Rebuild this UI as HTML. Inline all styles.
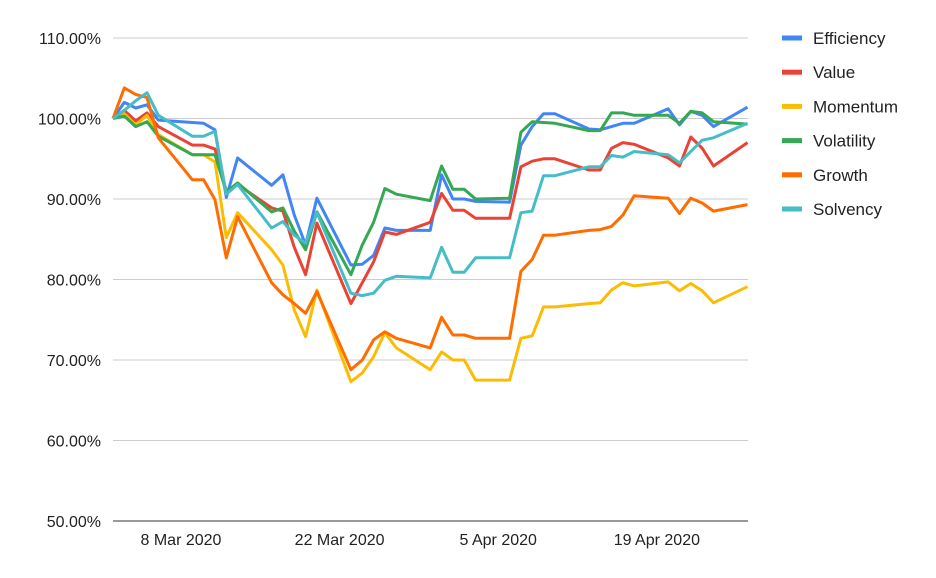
<!DOCTYPE html>
<html><head><meta charset="utf-8"><style>
body{margin:0;background:#fff;}
svg{display:block;font-family:"Liberation Sans",Arial,sans-serif;}
</style></head><body>
<svg id="chart" width="936" height="578" viewBox="0 0 936 578">
<g id="grid"></g>
<g id="yaxis"></g>
<g id="xaxis"></g>
<g id="series"></g>
<g id="legend"></g>
</svg>
<script>
// day offsets from 2 Mar 2020
const days = [0,1,2,3,4, 7,8,9,10,11, 14,15,16,17,18, 21,22,23,24,25, 28,29,30,31,32, 35,36,37,38,39, 42,43,44,45,46, 49,50,51,52,53, 56];
const yTicks = [50,60,70,80,90,100,110];
const xTickDays = [6,20,34,48];
const xTickLabels = ["8 Mar 2020","22 Mar 2020","5 Apr 2020","19 Apr 2020"];
const seriesNames = ["Efficiency","Value","Momentum","Volatility","Growth","Solvency"];
const seriesColors = ["#4285f4","#ea4335","#fbbc04","#34a853","#ff6d01","#46bdc6"];
const efficiency = [100,102,101.3,101.7,99.8, 99.5,99.4,98.6,90.2,95.1, 91.7,93,88,84.3,90.1, 81.8,81.9,83,86.4,86.1, 86.1,93,90,90,89.7, 89.6,96.7,99,100.6,100.6, 98.7,98.6,99,99.4,99.4, 101.2,99.2,100.9,100.4,99, 101.4];
const value = [100,101,99.7,100.7,99, 96.7,96.7,96.2,91,91.8, 88.9,88.5,84,80.6,87, 77,79.6,82.2,85.9,85.6, 87.1,90.7,88.6,88.6,87.6, 87.6,94,94.7,95,95, 93.6,93.6,96.3,97,96.8, 95.1,94.1,97.7,96.3,94.1, 97];
const momentum = [100,100.6,99.2,100.4,98, 95.5,95.5,94.6,85.2,88.3, 83.7,81.8,76.2,72.9,78.7, 67.3,68.4,70.4,73.4,71.5, 68.8,71,70,70,67.5, 67.5,72.7,73,76.6,76.6, 77,77.1,78.7,79.6,79.2, 79.7,78.6,79.5,78.6,77.1, 79.1];
const volatility = [100,100.3,99,99.6,97.8, 95.5,95.5,95.5,90.9,92, 88.4,88.9,86,83.7,88.4, 80.6,84.3,87.1,91.3,90.6, 89.8,94.1,91.2,91.2,90, 90.1,98.3,99.6,99.5,99.4, 98.5,98.5,100.7,100.7,100.4, 100.4,99.4,100.9,100.7,99.6, 99.3];
const growth = [100,103.8,103,102.6,97.6, 92.4,92.4,89.9,82.7,87.8, 79.6,78.1,77,75.8,78.5, 68.8,70,72.5,73.5,72.7, 71.5,75.3,73.1,73.1,72.7, 72.7,81,82.5,85.5,85.5, 86.1,86.2,86.6,88,90.4, 90.1,88.2,90.1,89.5,88.5, 89.3];
const solvency = [100,101,102.2,103.2,100.4, 97.8,97.8,98.4,90.6,91.8, 86.4,87.2,85.5,84.5,88.3, 78.3,78,78.3,79.9,80.4, 80.2,84,80.9,80.9,82.7, 82.7,88.3,88.5,92.9,92.9, 94,94,95.4,95.2,95.9, 95.5,94.5,95.9,97.3,97.6, 99.4];
const seriesValues = [efficiency,value,momentum,volatility,growth,solvency];

const NS="http://www.w3.org/2000/svg";
const X0=113, DX=11.33, Y110=38, Y50=521, XR=748;
function xScale(d){return X0+d*DX;}
function yScale(v){return Y50-(v-50)*(Y50-Y110)/60;}
function mk(tag,attrs,parent){const e=document.createElementNS(NS,tag);for(const k in attrs)e.setAttribute(k,attrs[k]);parent.appendChild(e);return e;}

const grid=document.getElementById('grid'), yaxis=document.getElementById('yaxis'), xaxis=document.getElementById('xaxis'), series=document.getElementById('series'), legend=document.getElementById('legend');
yTicks.forEach(t=>{
  const y=yScale(t);
  const l=mk('line',{x1:X0,x2:XR,y1:y,y2:y,stroke:t===50?'#333':'#ccc','stroke-width':1},grid);
  
  
  const tx=mk('text',{x:101,y:y+6,'text-anchor':'end','font-size':16,fill:'#222'},yaxis);
  tx.textContent=t.toFixed(2)+'%';
  
  
});
xTickDays.forEach((d,i)=>{
  const tx=mk('text',{x:xScale(d),y:545,'text-anchor':'middle','font-size':16,fill:'#222'},xaxis);
  tx.textContent=xTickLabels[i];
  
  
});
seriesValues.forEach((vals,i)=>{
  const pts=vals.map((v,j)=>xScale(days[j]).toFixed(1)+','+yScale(v).toFixed(1)).join(' ');
  const p=mk('polyline',{points:pts,fill:'none',stroke:seriesColors[i],'stroke-width':3,'stroke-linejoin':'round'},series);
  
  
  const ly=38+i*34.2;
  const sw=mk('rect',{x:782,y:ly-2.5,width:20,height:5,fill:seriesColors[i]},legend);
  
  
  const lt=mk('text',{x:813,y:ly+6,'font-size':17,fill:'#222'},legend);
  lt.textContent=seriesNames[i];
  
  
});
</script>
</body></html>
